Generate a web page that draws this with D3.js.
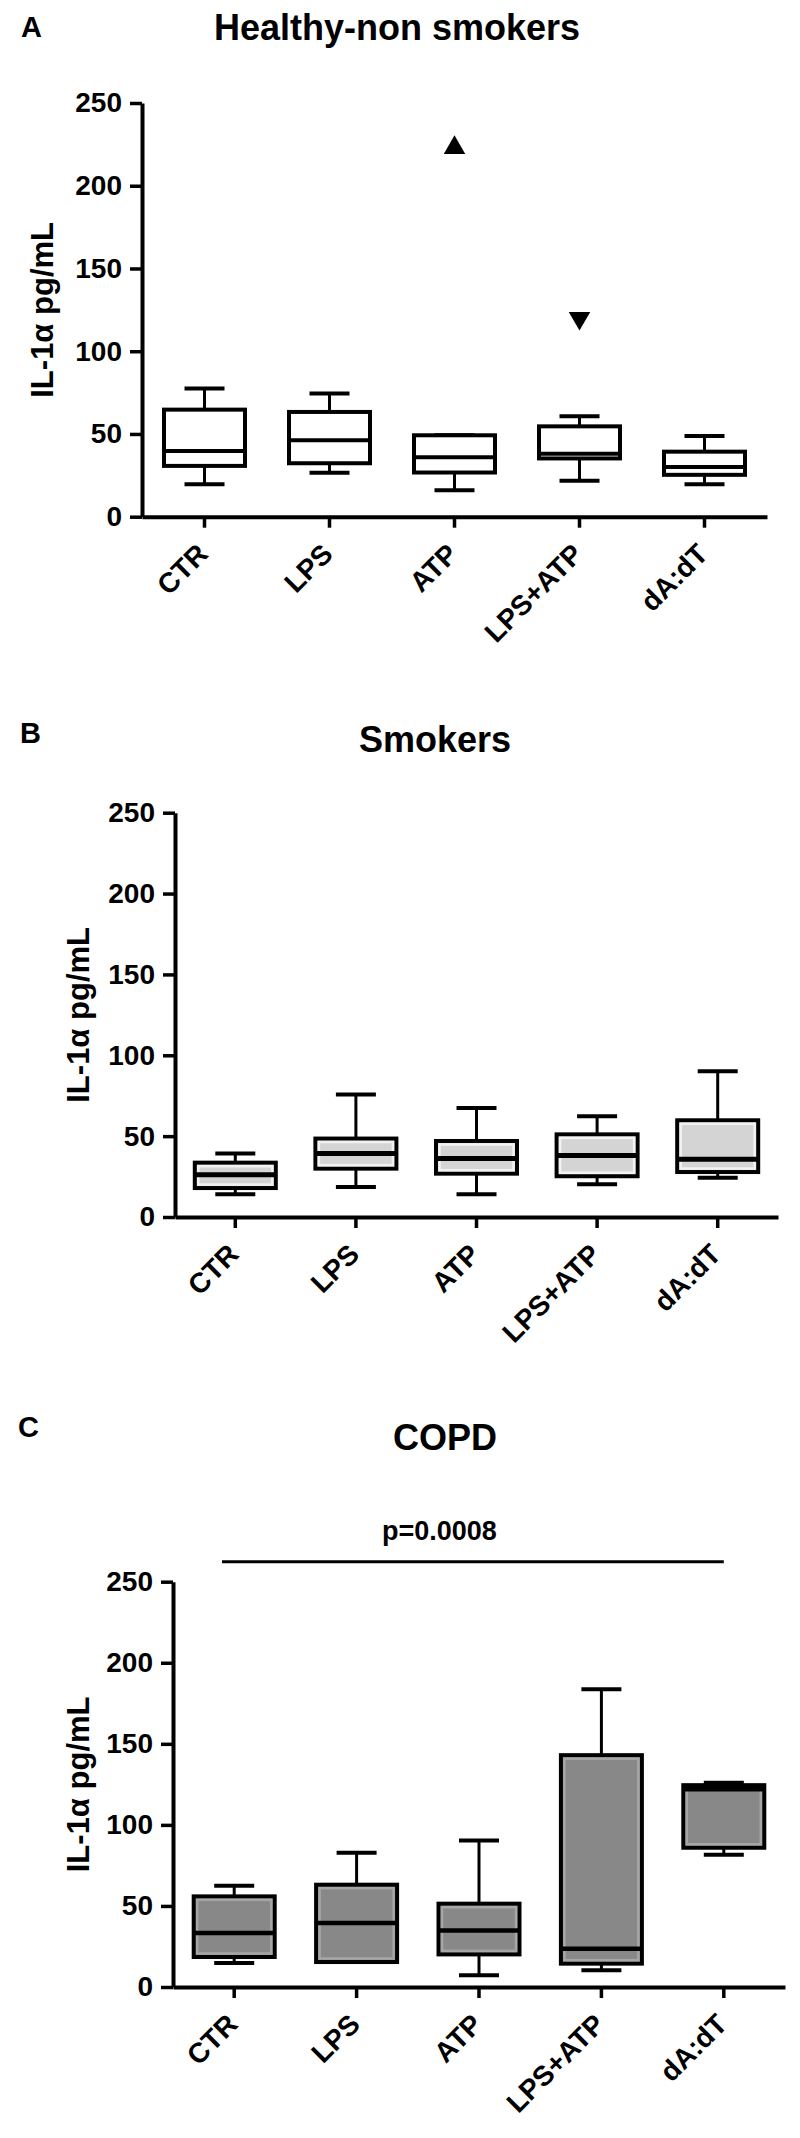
<!DOCTYPE html>
<html>
<head>
<meta charset="utf-8">
<script src="https://cdn.jsdelivr.net/npm/d3@7"></script>
<style>
  body{margin:0;background:#fff;}
  svg{display:block;}
  text{font-family:"Liberation Sans",Arial,Helvetica,sans-serif;font-weight:bold;fill:#000;}
</style>
</head>
<body>
<svg id="fig" width="800" height="2138"></svg>
<script>
const categories = ['CTR','LPS','ATP','LPS+ATP','dA:dT'];
const yTicks = [0,50,100,150,200,250];

// Healthy-non smokers (panel A)
const healthyMin    = [19.6, 26.6, 16.0, 21.7, 19.6];
const healthyQ1     = [30.7, 32.3, 26.7, 35.2, 25.3];
const healthyMedian = [39.7, 46.2, 35.9, 38.0, 30.0];
const healthyQ3     = [64.7, 63.3, 49.2, 54.6, 39.3];
const healthyMax    = [77.4, 74.4, 49.2, 60.7, 48.7];
const healthyOutliers = [{cat:'ATP', value:223, dir:'up'}, {cat:'LPS+ATP', value:120, dir:'down'}];

// Smokers (panel B)
const smokersMin    = [14.0, 18.6, 14.0, 20.2, 24.3];
const smokersQ1     = [17.9, 29.9, 26.8, 25.2, 27.8];
const smokersMedian = [26.2, 39.2, 36.1, 38.1, 35.7];
const smokersQ3     = [33.6, 48.5, 47.0, 51.1, 59.8];
const smokersMax    = [39.2, 75.7, 67.4, 62.3, 90.1];

// COPD (panel C)
const copdMin    = [14.8, 15.4,  7.2,  10.3,  81.6];
const copdQ1     = [18.5, 15.4, 20.1,  14.4,  85.9];
const copdMedian = [33.3, 39.5, 34.9,  23.6, 122.0];
const copdQ3     = [55.9, 63.1, 51.4, 143.0, 124.5];
const copdMax    = [62.5, 82.8, 90.4, 183.7, 126.0];
const copdPvalue = 'p=0.0008';

const yLabel = 'IL-1\u03b1 pg/mL';

const svg = d3.select('#fig');

function boxData(mins,q1,med,q3,maxs){
  return categories.map((c,i)=>({cat:c,min:mins[i],q1:q1[i],med:med[i],q3:q3[i],max:maxs[i]}));
}

function drawPanel(p){
  const g = svg.append('g');
  const x = d3.scaleBand().domain(categories).range([p.left, p.right]).padding(0);
  const y = d3.scaleLinear().domain([0,250]).range([p.bottom, p.top]);

  g.append('text').attr('x',p.letterX).attr('y',p.letterY).style('font-size','29px').text(p.letter);
  g.append('text').attr('x',p.titleX).attr('y',p.titleY).style('font-size','36px').text(p.title);

  // y axis
  const ya = g.append('g').attr('transform',`translate(${p.left},0)`)
    .call(d3.axisLeft(y).tickValues(yTicks).tickSize(12).tickSizeOuter(0).tickPadding(8));
  ya.select('.domain').attr('stroke','#000').attr('stroke-width',4);
  ya.selectAll('.tick line').attr('stroke','#000').attr('stroke-width',3.5);
  ya.selectAll('.tick text').style('font-size','28px').style('font-family','"Liberation Sans",Arial,sans-serif').style('font-weight','bold').attr('fill','#000');

  // x axis
  const xa = g.append('g').attr('transform',`translate(0,${p.bottom})`)
    .call(d3.axisBottom(x).tickSize(11).tickSizeOuter(0));
  xa.select('.domain').attr('stroke','#000').attr('stroke-width',4);
  xa.selectAll('.tick line').attr('stroke','#000').attr('stroke-width',3.5);
  xa.selectAll('.tick text')
    .attr('x',0).attr('y',0).attr('dy',0)
    .attr('text-anchor','end')
    .attr('transform','translate(5,39) rotate(-45)')
    .style('font-size','28px').style('font-family','"Liberation Sans",Arial,sans-serif').style('font-weight','bold').attr('fill','#000');

  // y label
  const cy = (p.top + p.bottom)/2;
  g.append('text').attr('transform',`translate(${p.ylabX},${cy}) rotate(-90)`)
    .attr('text-anchor','middle').style('font-size','31px').text(yLabel);

  // boxes
  const bw = 81, cw = 40;
  const boxes = g.append('g').selectAll('g').data(p.data).join('g')
    .attr('transform',d=>`translate(${x(d.cat)+x.bandwidth()/2},0)`);
  boxes.append('line').attr('x1',0).attr('x2',0).attr('y1',d=>y(d.max)).attr('y2',d=>y(d.q3))
    .attr('stroke','#000').attr('stroke-width',3);
  boxes.append('line').attr('x1',0).attr('x2',0).attr('y1',d=>y(d.q1)).attr('y2',d=>y(d.min))
    .attr('stroke','#000').attr('stroke-width',3);
  boxes.append('line').attr('x1',-cw/2).attr('x2',cw/2).attr('y1',d=>y(d.max)).attr('y2',d=>y(d.max))
    .attr('stroke','#000').attr('stroke-width',4);
  boxes.append('line').attr('x1',-cw/2).attr('x2',cw/2).attr('y1',d=>y(d.min)).attr('y2',d=>y(d.min))
    .attr('stroke','#000').attr('stroke-width',4);
  boxes.append('rect').attr('x',-bw/2).attr('width',bw)
    .attr('y',d=>y(d.q3)).attr('height',d=>y(d.q1)-y(d.q3))
    .attr('fill',p.fill).attr('stroke','#000').attr('stroke-width',4);
  if(p.rim){
    boxes.append('rect').attr('x',-bw/2+3.5).attr('width',bw-7)
      .attr('y',d=>y(d.q3)+3.5).attr('height',d=>Math.max(0,y(d.q1)-y(d.q3)-7))
      .attr('fill','none').attr('stroke',p.rim).attr('stroke-width',2.5);
  }
  boxes.append('line').attr('x1',-bw/2).attr('x2',bw/2).attr('y1',d=>y(d.med)).attr('y2',d=>y(d.med))
    .attr('stroke','#000').attr('stroke-width',p.medW);

  if(p.outliers){
    g.selectAll('path.out').data(p.outliers).join('path').attr('class','out')
      .attr('d',d3.symbol(d3.symbolTriangle,200))
      .attr('transform',d=>`translate(${x(d.cat)+x.bandwidth()/2},${y(d.value)}) rotate(${d.dir==='down'?180:0})`)
      .attr('fill','#000');
  }
  if(p.sig){
    g.append('line').attr('x1',p.sig.x1).attr('x2',x(categories[4])+x.bandwidth()/2)
      .attr('y1',p.sig.y).attr('y2',p.sig.y).attr('stroke','#000').attr('stroke-width',3);
    g.append('text').attr('x',p.sig.tx).attr('y',p.sig.ty).style('font-size','27px').text(p.sig.text);
  }
}

drawPanel({letter:'A',letterX:21,letterY:37,title:'Healthy-non smokers',titleX:214,titleY:40,
  left:142,right:767,top:103,bottom:516.7,ylabX:53,fill:'#fff',rim:null,medW:4,
  data:boxData(healthyMin,healthyQ1,healthyMedian,healthyQ3,healthyMax),outliers:healthyOutliers});

drawPanel({letter:'B',letterX:20,letterY:743,title:'Smokers',titleX:359,titleY:752,
  left:175,right:778,top:812.7,bottom:1217,ylabX:89,fill:'#d4d4d4',rim:'#f2f2f2',medW:5,
  data:boxData(smokersMin,smokersQ1,smokersMedian,smokersQ3,smokersMax)});

drawPanel({letter:'C',letterX:18,letterY:1437,title:'COPD',titleX:393,titleY:1450,
  left:173,right:785,top:1581.7,bottom:1987,ylabX:89,fill:'#888888',rim:'#a6a6a6',medW:4.5,
  data:boxData(copdMin,copdQ1,copdMedian,copdQ3,copdMax),
  sig:{x1:222,y:1561.7,tx:382,ty:1540,text:copdPvalue}});
</script>
</body>
</html>
